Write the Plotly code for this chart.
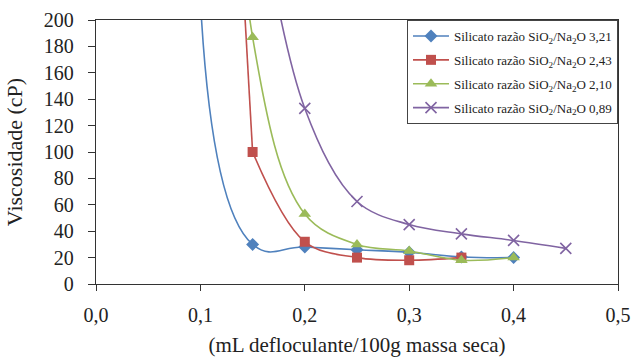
import plotly.graph_objects as go

# Data (first points of some series lie above the visible range, as in the original)
x_321 = [0.10, 0.15, 0.20, 0.25, 0.30, 0.35, 0.40]
y_321 = [215, 30, 28, 26, 24, 20.5, 20]

# 2,43 series: steep rise before 0,15 drawn as its own straight segment
x_243_up = [0.10, 0.15]
y_243_up = [800, 100]
x_243 = [0.15, 0.20, 0.25, 0.30, 0.35]
y_243 = [100, 32, 20, 18, 20]

x_210 = [0.10, 0.15, 0.20, 0.25, 0.30, 0.35, 0.40]
y_210 = [1000, 187, 53, 30, 25, 18, 20]

x_089 = [0.15, 0.20, 0.25, 0.30, 0.35, 0.40, 0.45]
y_089 = [320, 133, 62.5, 45, 38, 33, 27]

names = ["Silicato razão SiO<sub>2</sub>/Na<sub>2</sub>O 3,21",
         "Silicato razão SiO<sub>2</sub>/Na<sub>2</sub>O 2,43",
         "Silicato razão SiO<sub>2</sub>/Na<sub>2</sub>O 2,10",
         "Silicato razão SiO<sub>2</sub>/Na<sub>2</sub>O 0,89"]

x_ticks = [0.0, 0.1, 0.2, 0.3, 0.4, 0.5]
x_ticklabels = ["0,0", "0,1", "0,2", "0,3", "0,4", "0,5"]
y_ticks = list(range(0, 201, 20))

colors = ["#4F81BD", "#C0504D", "#9BBB59", "#8064A2"]
symbols = ["diamond", "square", "triangle-up", "x-thin-open"]
sizes = [10, 10, 11, 11]
smooth = [1.3, 1.0, 1.0, 1.0]

FONT = "Liberation Serif"
TXT = "#222222"

fig = go.Figure()

# upper steep part of the 2,43 curve (no legend entry)
fig.add_trace(go.Scatter(
    x=x_243_up, y=y_243_up, mode="lines", showlegend=False, hoverinfo="skip",
    line=dict(color=colors[1], width=1.6), legendgroup="g1",
))

series = [(x_321, y_321), (x_243, y_243), (x_210, y_210), (x_089, y_089)]
for i, (xs, ys) in enumerate(series):
    mk = dict(symbol=symbols[i], size=sizes[i], color=colors[i])
    if symbols[i] == "x-thin-open":
        mk["line"] = dict(color=colors[i], width=1.6)
    fig.add_trace(go.Scatter(
        x=xs, y=ys, name=names[i], mode="lines+markers",
        line=dict(color=colors[i], width=1.6, shape="spline", smoothing=smooth[i]),
        marker=mk, legendgroup=f"g{i}",
    ))

fig.update_layout(
    width=633, height=359,
    margin=dict(l=96, r=15, t=20, b=75),
    plot_bgcolor="white", paper_bgcolor="white",
    font=dict(family=FONT, size=20, color=TXT),
    showlegend=True,
    hovermode=False,
    legend=dict(x=1, xanchor="right", y=1, yanchor="top",
                bgcolor="white", bordercolor="#444", borderwidth=1,
                font=dict(family=FONT, size=13, color=TXT),
                tracegroupgap=4, itemwidth=36),
    xaxis=dict(range=[0, 0.5], tickvals=x_ticks, ticktext=x_ticklabels,
               showgrid=False, zeroline=False, showline=True,
               linecolor="#333", linewidth=1.3, mirror=True,
               ticks="outside", ticklen=6, tickcolor="#333",
               tickfont=dict(family=FONT, size=20, color=TXT),
               ticklabelstandoff=7,
               automargin=False,
               title=dict(text="(mL defloculante/100g massa seca)",
                          font=dict(family=FONT, size=21, color=TXT), standoff=12)),
    yaxis=dict(range=[0, 200], tickvals=y_ticks,
               showgrid=False, zeroline=False, showline=True,
               linecolor="#333", linewidth=1.3, mirror=True,
               ticks="outside", ticklen=7, tickcolor="#333",
               tickfont=dict(family=FONT, size=20, color=TXT),
               ticklabelstandoff=10,
               automargin=False,
               title=dict(text="Viscosidade (cP)",
                          font=dict(family=FONT, size=22, color=TXT))),
)

fig.write_html("out.html", config={"displayModeBar": False, "staticPlot": True},
               post_script="document.body.style.margin='0';")
